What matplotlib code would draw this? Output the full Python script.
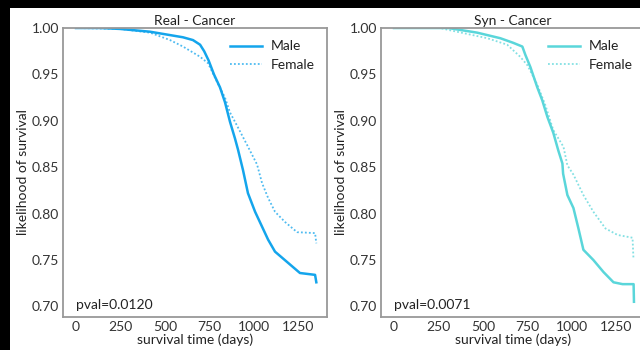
import matplotlib
matplotlib.use("Agg")
import matplotlib.pyplot as plt
from matplotlib.patches import Rectangle

plt.rcParams['font.family'] = ['Lato', 'DejaVu Sans']

# ---- data ----
real_male_t = [0, 135, 247, 416, 601, 657, 697, 720, 745, 775, 809, 837, 865, 893, 910,
               938, 966, 1006, 1045, 1079, 1118, 1185, 1258, 1343, 1350]
real_male_s = [1.0, 1.0, 0.999, 0.996, 0.990, 0.987, 0.982, 0.975, 0.965, 0.950, 0.936,
               0.920, 0.899, 0.881, 0.869, 0.847, 0.822, 0.802, 0.786, 0.772, 0.759,
               0.748, 0.736, 0.734, 0.726]
real_female_t = [0, 247, 416, 528, 601, 697, 742, 792, 837, 865, 904, 961, 1017, 1045,
                 1079, 1118, 1174, 1242, 1343, 1350]
real_female_s = [1.0, 0.999, 0.995, 0.987, 0.980, 0.969, 0.962, 0.942, 0.925, 0.909,
                 0.895, 0.874, 0.853, 0.833, 0.817, 0.802, 0.791, 0.780, 0.779, 0.768]

syn_male_t = [0, 304, 467, 597, 670, 721, 738, 766, 805, 833, 862, 895, 923, 946, 950,
              974, 1008, 1036, 1064, 1120, 1177, 1233, 1284, 1346, 1348]
syn_male_s = [1.0, 1.0, 0.995, 0.989, 0.984, 0.980, 0.971, 0.958, 0.936, 0.922, 0.904,
              0.887, 0.868, 0.854, 0.843, 0.820, 0.806, 0.784, 0.761, 0.750, 0.737,
              0.726, 0.724, 0.724, 0.705]
syn_female_t = [0, 259, 304, 524, 636, 709, 749, 805, 850, 895, 952, 974, 1008, 1064,
                1120, 1188, 1256, 1340, 1345]
syn_female_s = [1.0, 1.0, 0.998, 0.989, 0.982, 0.969, 0.960, 0.939, 0.917, 0.890, 0.872,
                0.852, 0.842, 0.820, 0.802, 0.784, 0.777, 0.774, 0.752]

titles = ["Real - Cancer", "Syn - Cancer"]
pvals = ["pval=0.0120", "pval=0.0071"]
colors = ["#14a5ec", "#5ad6da"]
x_ticks = [0, 250, 500, 750, 1000, 1250]
y_ticks = [0.70, 0.75, 0.80, 0.85, 0.90, 0.95, 1.00]

panels = [
    (real_male_t, real_male_s, real_female_t, real_female_s),
    (syn_male_t, syn_male_s, syn_female_t, syn_female_s),
]

W, H = 640, 350
fig = plt.figure(figsize=(W / 100, H / 100), dpi=100)
fig.patch.set_facecolor('black')
fig.add_artist(Rectangle((10 / W, 0), 1, (H - 8) / H, transform=fig.transFigure,
                         facecolor='white', edgecolor='none', zorder=-10))

lefts = [63, 381]
axw = 264
top, bottom = 28, 317
fs_ = 10
for i, (mt, ms, ft, fs) in enumerate(panels):
    ax = fig.add_axes([lefts[i] / W, (H - bottom) / H, axw / W, (bottom - top) / H])
    ax.plot(mt, ms, color=colors[i], lw=1.8, label="Male")
    ax.plot(ft, fs, color=colors[i], lw=1.3, ls=(0, (1, 1.2)), alpha=0.75, label="Female")
    ax.set_xlim(-73, 1410)
    ax.set_ylim(0.6886, 1.0)
    ax.set_xticks(x_ticks)
    ax.set_yticks(y_ticks)
    ax.set_yticklabels([f"{v:.2f}" for v in y_ticks])
    ax.tick_params(length=0, labelsize=fs_, colors='#333333', pad=3)
    for s in ax.spines.values():
        s.set_color('#999999')
        s.set_linewidth(1.3)
    ax.set_title(titles[i], fontsize=fs_, color='#222222', pad=2)
    ax.set_xlabel("survival time (days)", fontsize=fs_, color='#222222', labelpad=0)
    ax.set_ylabel("likelihood of survival", fontsize=fs_, color='#222222', labelpad=2)
    ax.text(0.05, 0.04, pvals[i], transform=ax.transAxes, fontsize=fs_,
            color='#222222', va='center', ha='left')
    leg = ax.legend(loc='upper right', frameon=False, fontsize=fs_,
                    handlelength=2.3, handletextpad=0.6, labelspacing=0.45,
                    bbox_to_anchor=(1.0, 1.0))
    for t in leg.get_texts():
        t.set_color('#222222')

fig.savefig("out.png", dpi=100, facecolor=fig.get_facecolor())
